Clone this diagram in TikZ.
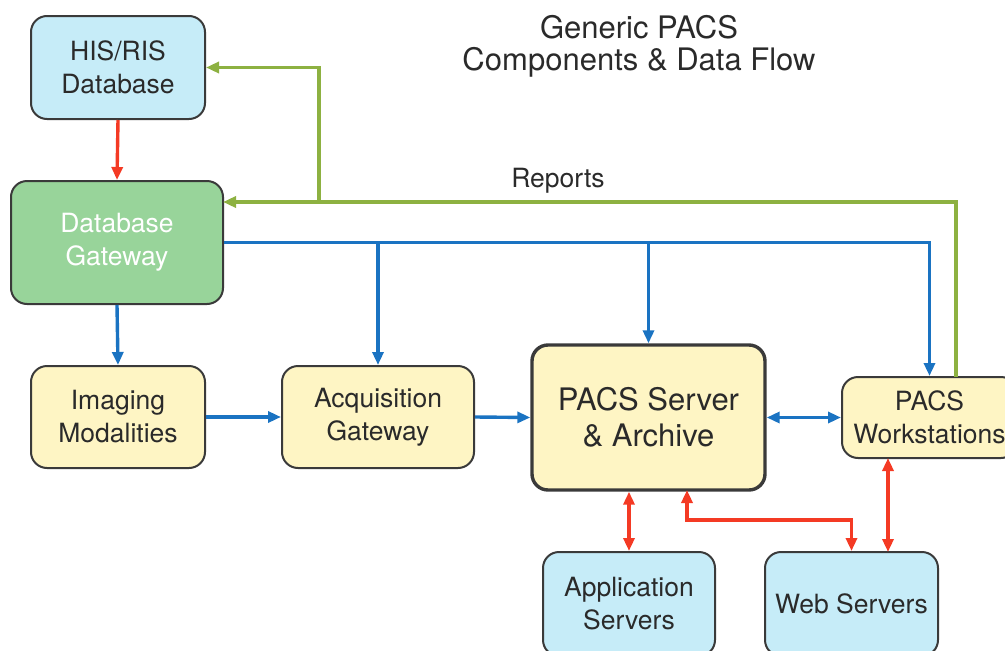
\documentclass[tikz,border=0pt]{standalone}
\usepackage{fontspec}
\setmainfont{TeX Gyre Heros}
\usetikzlibrary{arrows.meta}
\definecolor{boxblue}{HTML}{C6ECF8}
\definecolor{boxyellow}{HTML}{FEF5C4}
\definecolor{boxgreen}{HTML}{98D49A}
\definecolor{edge}{HTML}{3A3A3A}
\definecolor{txt}{HTML}{2A2A2A}
\definecolor{lnblue}{HTML}{1A73C2}
\definecolor{lnred}{HTML}{F43A24}
\definecolor{lngreen}{HTML}{8DB141}
\tikzset{
  box/.style={draw=edge, line width=2pt, rounded corners=16pt, align=center,
    text=txt, font=\fontsize{26.5}{33}\selectfont, inner sep=0pt},
  conn/.style={line width=3.4pt, -{Triangle[length=13pt,width=11pt]}},
  bconn/.style={line width=3.4pt, {Triangle[length=13pt,width=11pt]}-{Triangle[length=13pt,width=11pt]}},
}
\begin{document}
\begin{tikzpicture}[x=1pt,y=-1pt]
\useasboundingbox (0,0) rectangle (1005,651);
% nodes
\node[box, fill=boxblue, minimum width=174pt, minimum height=103pt] (his) at (118,67.5) {HIS/RIS\\Database};
\node[box, fill=boxgreen, text=white, minimum width=212pt, minimum height=123pt] (dg) at (117,242.5) {Database\\Gateway};
\node[box, fill=boxyellow, minimum width=174pt, minimum height=102pt] (im) at (118,417) {Imaging\\Modalities};
\node[box, fill=boxyellow, minimum width=192pt, minimum height=102pt] (acq) at (378,417) {Acquisition\\Gateway};
\node[box, fill=boxyellow, line width=3.4pt, minimum width=233pt, minimum height=145pt,
  font=\fontsize{31}{36}\selectfont] (pacs) at (648.5,417.5) {PACS Server\\\& Archive};
\node[box, fill=boxyellow, minimum width=175pt, minimum height=81pt] (ws) at (929.5,417.5) {PACS\\Workstations};
\node[box, fill=boxblue, minimum width=172pt, minimum height=104pt] (app) at (629,604) {Application\\Servers};
\node[box, fill=boxblue, minimum width=173pt, minimum height=104pt] (web) at (851.5,604) {Web Servers};
\node[align=center, text=txt, font=\fontsize{31}{32}\selectfont] (title) at (639,46) {Generic PACS\\Components \& Data Flow};
\node[text=txt, font=\fontsize{26.5}{33}\selectfont] (rep) at (558,181) {Reports};
% coordinates
\coordinate (wsg) at (956,377);
\coordinate (gturn) at (956,202);
\coordinate (dgr) at (223,202);
\coordinate (gbr) at (319,202);
\coordinate (gtop) at (319,67.5);
\coordinate (pr) at (687,490);
\coordinate (prm) at (687,520);
\coordinate (wsr) at (888,458);
\coordinate (webr) at (888,552);
% red
\draw[conn, lnred] (his.south) -- (dg.north);
\draw[bconn, lnred] (app.north |- pacs.south) -- (app.north);
\draw[bconn, lnred] (pr) -- (prm) -| (web.north);
\draw[bconn, lnred] (wsr) -- (webr);
% blue
\draw[conn, lnblue] (dg.south) -- (im.north);
\draw[conn, lnblue] (im.east) -- (acq.west);
\draw[conn, lnblue] (acq.east) -- (pacs.west);
\draw[bconn, lnblue] (pacs.east) -- (ws.west);
\draw[conn, lnblue] (dg.east) -| (ws.north);
\draw[conn, lnblue] (acq.north |- dg.east) -- (acq.north);
\draw[conn, lnblue] (pacs.north |- dg.east) -- (pacs.north);
% green
\draw[conn, lngreen] (wsg) -- (gturn) -- (dgr);
\draw[conn, lngreen] (gbr) -- (gtop) -- (his.east);
\end{tikzpicture}
\end{document}
